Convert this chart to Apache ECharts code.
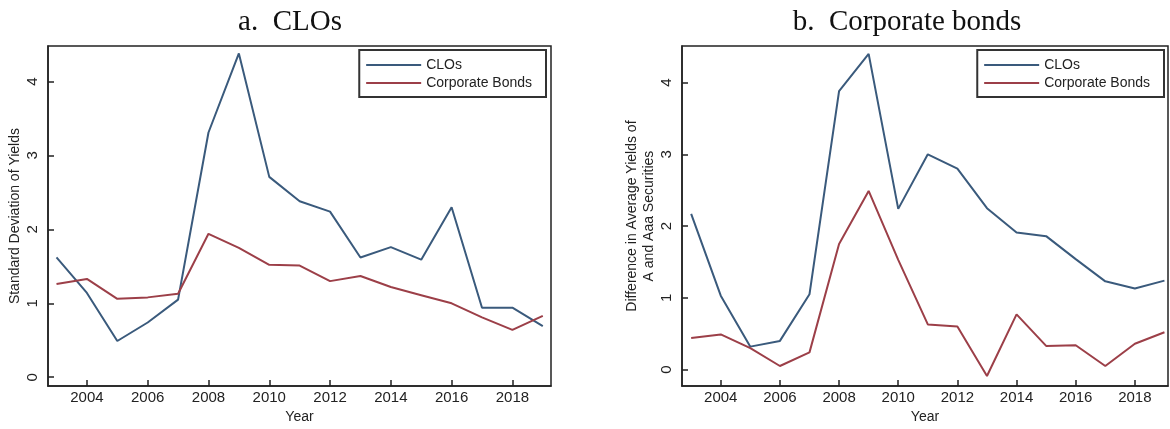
<!DOCTYPE html>
<html>
<head>
<meta charset="utf-8">
<script src="https://cdn.jsdelivr.net/npm/echarts@6/dist/echarts.min.js"></script>
<style>
  html, body { margin: 0; padding: 0; background: #fff; }
  #chart { width: 1170px; height: 429px; }
</style>
</head>
<body>
<div id="chart"></div>
<script>
// Years on the horizontal axis
const years = [2003, 2004, 2005, 2006, 2007, 2008, 2009, 2010, 2011,
               2012, 2013, 2014, 2015, 2016, 2017, 2018, 2019];
const yearTicks = [2004, 2006, 2008, 2010, 2012, 2014, 2016, 2018];
const valueTicks = [0, 1, 2, 3, 4];

// Panel a: standard deviation of yields
const sdClos = [1.62, 1.14, 0.49, 0.74, 1.05, 3.31, 4.38, 2.71, 2.38,
                2.24, 1.62, 1.76, 1.59, 2.30, 0.94, 0.94, 0.69];
const sdBonds = [1.26, 1.33, 1.06, 1.08, 1.13, 1.94, 1.75, 1.52, 1.51,
                 1.30, 1.37, 1.22, 1.11, 1.00, 0.81, 0.64, 0.83];

// Panel b: difference in average yields of A and Aaa securities
const diffClos = [2.17, 1.03, 0.32, 0.40, 1.05, 3.88, 4.40, 2.24, 3.00,
                  2.80, 2.25, 1.91, 1.86, 1.54, 1.23, 1.13, 1.24];
const diffBonds = [0.44, 0.49, 0.30, 0.05, 0.24, 1.75, 2.49, 1.53, 0.63,
                   0.60, -0.09, 0.77, 0.33, 0.34, 0.05, 0.36, 0.52];

const seriesNames = ['CLOs', 'Corporate Bonds'];
const blue = '#3a5a7c';
const red = '#9c3f48';

const pair = (ys) => years.map((y, i) => [y, ys[i]]);

const sans = 'Liberation Sans';
const serif = 'Liberation Serif';
const ink = '#222';

function xAxisFor(gridIndex, min, max) {
  return {
    type: 'value', gridIndex, min, max,
    name: 'Year', nameLocation: 'middle', nameGap: 19,
    nameTextStyle: { fontFamily: sans, fontSize: 14, color: ink },
    axisLine: { show: true, onZero: false, lineStyle: { color: ink, width: 1.5 } },
    splitLine: { show: false },
    axisTick: { show: true, inside: true, length: 6, customValues: yearTicks,
                lineStyle: { color: ink, width: 1.5 } },
    axisLabel: { customValues: yearTicks, margin: 4, fontFamily: sans,
                 fontSize: 15, color: ink, formatter: (v) => String(v) }
  };
}

function yAxisFor(gridIndex, min, max, name, gap) {
  return {
    type: 'value', gridIndex, min, max,
    name, nameLocation: 'middle', nameGap: gap,
    nameTextStyle: { fontFamily: sans, fontSize: 14, color: ink, lineHeight: 17 },
    axisLine: { show: true, onZero: false, lineStyle: { color: ink, width: 1.5 } },
    splitLine: { show: false },
    axisTick: { show: true, inside: true, length: 6, customValues: valueTicks,
                lineStyle: { color: ink, width: 1.5 } },
    axisLabel: { customValues: valueTicks, rotate: 90, margin: 8,
                 fontFamily: sans, fontSize: 15, color: ink, formatter: (v) => String(v) }
  };
}

function legendFor(right) {
  return {
    data: seriesNames.map(n => ({ name: n })),
    orient: 'vertical', right, top: 50,
    itemWidth: 55, itemHeight: 14, itemGap: 4,
    padding: [8, 14, 7, 6],
    borderColor: '#333', borderWidth: 2,
    backgroundColor: '#fff',
    itemStyle: { opacity: 0 },
    lineStyle: { width: 1.8 },
    textStyle: { fontFamily: sans, fontSize: 14, color: ink },
    selectedMode: false
  };
}

function line(name, data, color, idx) {
  return {
    name, type: 'line', data: pair(data),
    xAxisIndex: idx, yAxisIndex: idx,
    symbol: 'none', smooth: false,
    lineStyle: { color, width: 2 },
    itemStyle: { color },
    silent: true, animation: false
  };
}

const chart = echarts.init(document.getElementById('chart'), null, { renderer: 'canvas' });
chart.setOption({
  animation: false,
  title: [
    { text: 'a.  CLOs', left: 285, top: 3, textAlign: 'center',
      textStyle: { fontFamily: serif, fontSize: 29, fontWeight: 'normal', color: '#111' } },
    { text: 'b.  Corporate bonds', left: 902, top: 3, textAlign: 'center',
      textStyle: { fontFamily: serif, fontSize: 29, fontWeight: 'normal', color: '#111' } }
  ],
  grid: [
    { left: 48, top: 46, width: 503, height: 347, show: true,
      borderColor: ink, borderWidth: 1.5, backgroundColor: 'transparent' },
    { left: 682, top: 46, width: 486, height: 347, show: true,
      borderColor: ink, borderWidth: 1.5, backgroundColor: 'transparent' }
  ],
  xAxis: [xAxisFor(0, 2002.72, 2019.27), xAxisFor(1, 2002.69, 2019.12)],
  yAxis: [
    yAxisFor(0, -0.12, 4.48, 'Standard Deviation of Yields', 22),
    yAxisFor(1, -0.23, 4.51, 'Difference in Average Yields of\nA and Aaa Securities', 16)
  ],
  legend: [legendFor(624), legendFor(6)],
  series: [
    line(seriesNames[0], sdClos, blue, 0),
    line(seriesNames[1], sdBonds, red, 0),
    line(seriesNames[0], diffClos, blue, 1),
    line(seriesNames[1], diffBonds, red, 1)
  ]
});
</script>
</body>
</html>
